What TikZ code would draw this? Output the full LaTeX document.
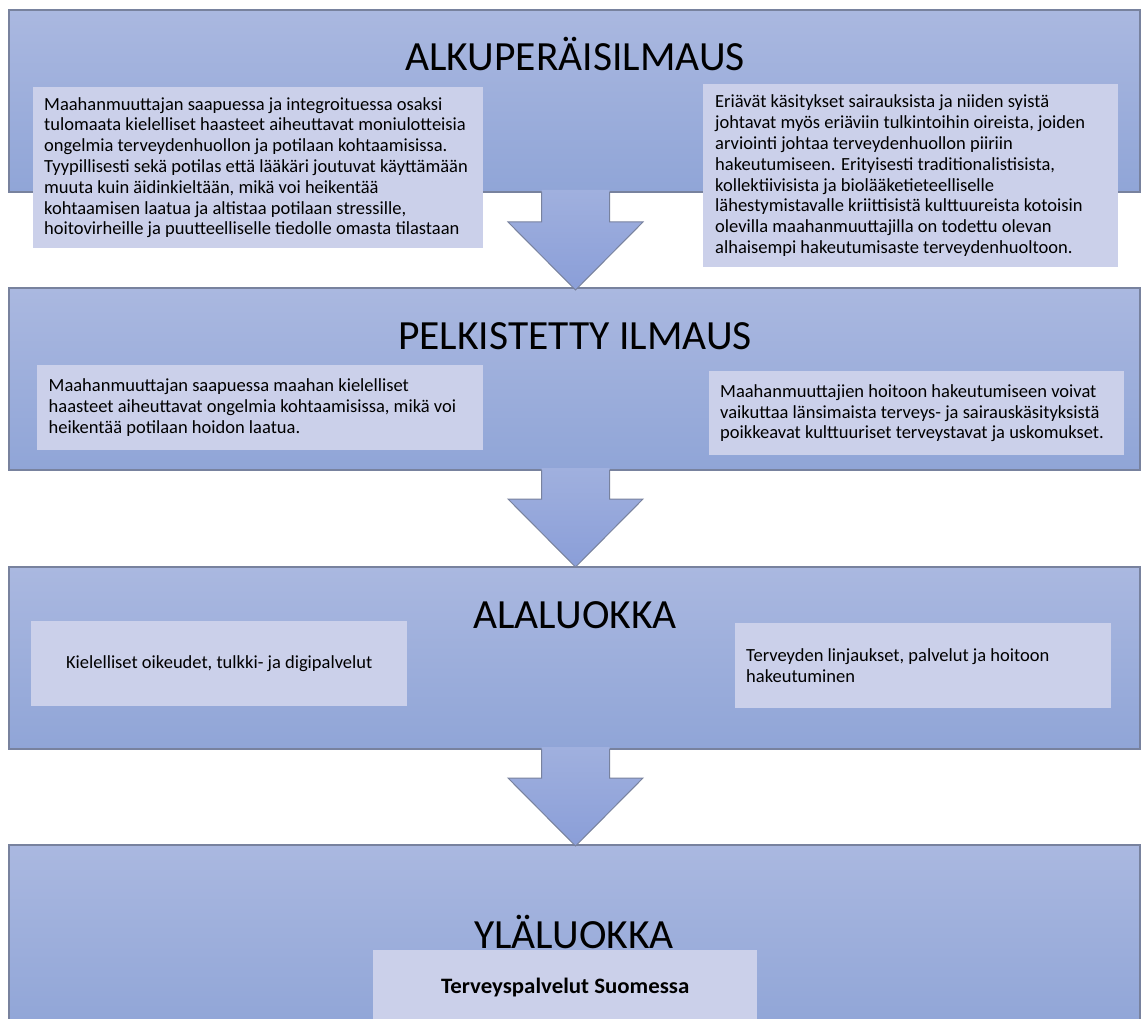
\documentclass[tikz,border=0pt]{standalone}
\usepackage{fontspec}
\setmainfont{Carlito}
\newfontfamily\boldfont[FakeStretch=1.04]{Carlito}
\definecolor{bandtop}{RGB}{170,184,224}
\definecolor{bandbot}{RGB}{144,165,215}
\definecolor{arrtop}{RGB}{160,176,222}
\definecolor{arrbot}{RGB}{138,158,216}
\definecolor{boxfill}{RGB}{203,208,234}
\definecolor{edge}{RGB}{120,130,158}
\tikzset{
  band/.style={top color=bandtop, bottom color=bandbot, draw=edge, line width=1.2pt},
  arrfill/.style={top color=arrtop, bottom color=arrbot},
  arredge/.style={draw=edge, line width=1pt, line join=miter},
  tbox/.style={fill=boxfill, draw=none, inner sep=0pt, anchor=north west},
  txt/.style={font=\fontsize{18.5}{20.8}\selectfont, align=left, inner sep=0pt, anchor=west, text=black},
  title/.style={font=\fontsize{41.5}{48}\selectfont, inner sep=0pt, anchor=base, text=black}
}
\begin{document}
\begin{tikzpicture}[x=1pt,y=-1pt]
\useasboundingbox (0,0) rectangle (1141,1019);
\fill[white] (0,0) rectangle (1141,1019);
% bands
\path[band] (9,10) rectangle (1140,192);
\path[band] (9,288) rectangle (1140,470);
\path[band] (9,567) rectangle (1140,749);
\path[band] (9,845) rectangle (1140,1030);
% arrows
\foreach \t/\s/\p in {190/222/290, 468/499/567, 747/778/846}{
  \path[arrfill] (541.5,\t) -- (541.5,\s) -- (508,\s) -- (575.5,\p) -- (643,\s) -- (609.5,\s) -- (609.5,\t) -- cycle;
  \path[arredge] (541.5,\t+2) -- (541.5,\s) -- (508,\s) -- (575.5,\p) -- (643,\s) -- (609.5,\s) -- (609.5,\t+2);
}
% titles
\node[title] (h1) at (575,71) {ALKUPERÄISILMAUS};
\node[title] (h2) at (575,349) {PELKISTETTY ILMAUS};
\node[title] (h3) at (575,628) {ALALUOKKA};
\node[title] (h4) at (574,948) {YLÄLUOKKA};
% boxes row 1
\node[tbox, minimum width=450pt, minimum height=161pt] (b1l) at (33,87) {};
\node[txt] (t1l) at ([xshift=11pt]b1l.west) {Maahanmuuttajan saapuessa ja integroituessa osaksi\\tulomaata kielelliset haasteet aiheuttavat moniulotteisia\\ongelmia terveydenhuollon ja potilaan kohtaamisissa.\\Tyypillisesti sekä potilas että lääkäri joutuvat käyttämään\\muuta kuin äidinkieltään, mikä voi heikentää\\kohtaamisen laatua ja altistaa potilaan stressille,\\hoitovirheille ja puutteelliselle tiedolle omasta tilastaan};
\node[tbox, minimum width=415pt, minimum height=183pt] (b1r) at (703,84) {};
\node[txt] (t1r) at ([xshift=12pt]b1r.west) {Eriävät käsitykset sairauksista ja niiden syistä\\johtavat myös eriäviin tulkintoihin oireista, joiden\\arviointi johtaa terveydenhuollon piiriin\\hakeutumiseen. Erityisesti traditionalistisista,\\kollektiivisista ja biolääketieteelliselle\\lähestymistavalle kriittisistä kulttuureista kotoisin\\olevilla maahanmuuttajilla on todettu olevan\\alhaisempi hakeutumisaste terveydenhuoltoon.};
% boxes row 2
\node[tbox, minimum width=446pt, minimum height=85pt] (b2l) at (37,365) {};
\node[txt] (t2l) at ([xshift=11.5pt]b2l.west) {Maahanmuuttajan saapuessa maahan kielelliset\\haasteet aiheuttavat ongelmia kohtaamisissa, mikä voi\\heikentää potilaan hoidon laatua.};
\node[tbox, minimum width=415pt, minimum height=84pt] (b2r) at (709,371) {};
\node[txt] (t2r) at ([xshift=11pt]b2r.west) {Maahanmuuttajien hoitoon hakeutumiseen voivat\\vaikuttaa länsimaista terveys- ja sairauskäsityksistä\\poikkeavat kulttuuriset terveystavat ja uskomukset.};
% boxes row 3
\node[tbox, minimum width=376pt, minimum height=85pt] (b3l) at (31,621) {};
\node[txt, anchor=center] (t3l) at (b3l.center) {Kielelliset oikeudet, tulkki- ja digipalvelut};
\node[tbox, minimum width=376pt, minimum height=85pt] (b3r) at (735,623) {};
\node[txt] (t3r) at ([xshift=11pt]b3r.west) {Terveyden linjaukset, palvelut ja hoitoon\\hakeutuminen};
% box row 4
\node[tbox, minimum width=384pt, minimum height=74pt] (b4) at (373,950) {};
\node[txt, anchor=center, font=\boldfont\fontsize{22}{24}\selectfont\bfseries] (t4) at (b4.center) {Terveyspalvelut Suomessa};
\end{tikzpicture}
\end{document}
